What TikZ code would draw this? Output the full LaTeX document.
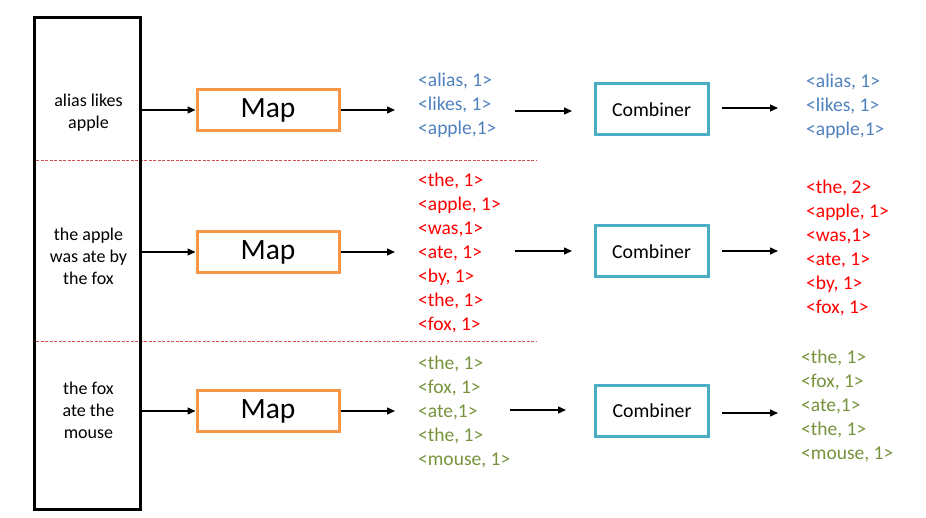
\documentclass[tikz,border=0pt]{standalone}
\usepackage{fontspec}
\setmainfont{Carlito}
\usetikzlibrary{arrows.meta}
\definecolor{mapor}{HTML}{F79646}
\definecolor{combl}{HTML}{4BACC6}
\definecolor{kvblue}{HTML}{4F81BD}
\definecolor{kvred}{HTML}{FF0000}
\definecolor{kvgreen}{HTML}{77933C}
\definecolor{sepred}{HTML}{D05050}
\begin{document}
\begin{tikzpicture}[x=1pt,y=-1pt,
  inbox/.style={draw=black,line width=3pt,minimum width=106pt,minimum height=491pt,inner sep=0pt},
  intext/.style={align=center,font=\fontsize{18}{22}\selectfont,inner sep=0pt},
  mapbox/.style={draw=mapor,line width=3pt,minimum width=142pt,minimum height=41pt,inner sep=0pt,font=\fontsize{29.5}{35}\selectfont},
  combox/.style={draw=combl,line width=3pt,minimum width=113pt,minimum height=51pt,inner sep=0pt,font=\fontsize{19.8}{24}\selectfont},
  kvlist/.style={align=left,anchor=west,inner sep=0pt,font=\fontsize{19.5}{24}\selectfont},
  arr/.style={line width=1.3pt,-{Triangle[length=8pt,width=7pt]}},
  sep/.style={draw=sepred,line width=0.8pt,dash pattern=on 3pt off 1.5pt}]
\useasboundingbox (0,0) rectangle (926,518);
% separators
\coordinate (s1a) at (36,160); \coordinate (s1b) at (537,160);
\coordinate (s2a) at (36,341); \coordinate (s2b) at (537,341);
\draw[sep] (s1a) -- (s1b);
\draw[sep] (s2a) -- (s2b);
% input box
\node[inbox] (inbox) at (87,263.5) {};
\node[intext] (in1) at (88.5,113) {alias likes\\apple};
\node[intext] (in2) at (88.5,256) {the apple\\was ate by\\the fox};
\node[intext] (in3) at (88.5,410.5) {the fox\\ate the\\mouse};
% map boxes
\node[mapbox] (map1) at (268,110) {Map};
\node[mapbox] (map2) at (268,252) {Map};
\node[mapbox] (map3) at (268,411) {Map};
% map outputs
\node[kvlist,text=kvblue] (l1) at (418,105) {<alias, 1>\\<likes, 1>\\<apple,1>};
\node[kvlist,text=kvred] (l2) at (418,253) {<the, 1>\\<apple, 1>\\<was,1>\\<ate, 1>\\<by, 1>\\<the, 1>\\<fox, 1>};
\node[kvlist,text=kvgreen] (l3) at (418,412) {<the, 1>\\<fox, 1>\\<ate,1>\\<the, 1>\\<mouse, 1>};
% combiners
\node[combox] (c1) at (651.5,109.5) {Combiner};
\node[combox] (c2) at (651.5,251.5) {Combiner};
\node[combox] (c3) at (652,410.5) {Combiner};
% combiner outputs
\node[kvlist,text=kvblue] (o1) at (806,106) {<alias, 1>\\<likes, 1>\\<apple,1>};
\node[kvlist,text=kvred] (o2) at (806,248) {<the, 2>\\<apple, 1>\\<was,1>\\<ate, 1>\\<by, 1>\\<fox, 1>};
\node[kvlist,text=kvgreen] (o3) at (801,406) {<the, 1>\\<fox, 1>\\<ate,1>\\<the, 1>\\<mouse, 1>};
% arrows: input -> map
\draw[arr] (inbox.east |- map1.west) -- (map1.west);
\draw[arr] (inbox.east |- map2.west) -- (map2.west);
\draw[arr] (inbox.east |- map3.west) -- (map3.west);
% map -> list
\coordinate (m1e) at (395,110);
\coordinate (m2e) at (395,252);
\coordinate (m3e) at (395,411);
\draw[arr] (map1.east) -- (m1e);
\draw[arr] (map2.east) -- (m2e);
\draw[arr] (map3.east) -- (m3e);
% list -> combiner
\coordinate (k1s) at (515,111); \coordinate (k1e) at (572,111);
\coordinate (k2s) at (515,251); \coordinate (k2e) at (572,251);
\coordinate (k3s) at (510,410); \coordinate (k3e) at (566,410);
\draw[arr] (k1s) -- (k1e);
\draw[arr] (k2s) -- (k2e);
\draw[arr] (k3s) -- (k3e);
% combiner -> output
\coordinate (q1s) at (722,108); \coordinate (q1e) at (778,108);
\coordinate (q2s) at (722,251); \coordinate (q2e) at (778,251);
\coordinate (q3s) at (722,413); \coordinate (q3e) at (778,413);
\draw[arr] (q1s) -- (q1e);
\draw[arr] (q2s) -- (q2e);
\draw[arr] (q3s) -- (q3e);
\end{tikzpicture}
\end{document}
